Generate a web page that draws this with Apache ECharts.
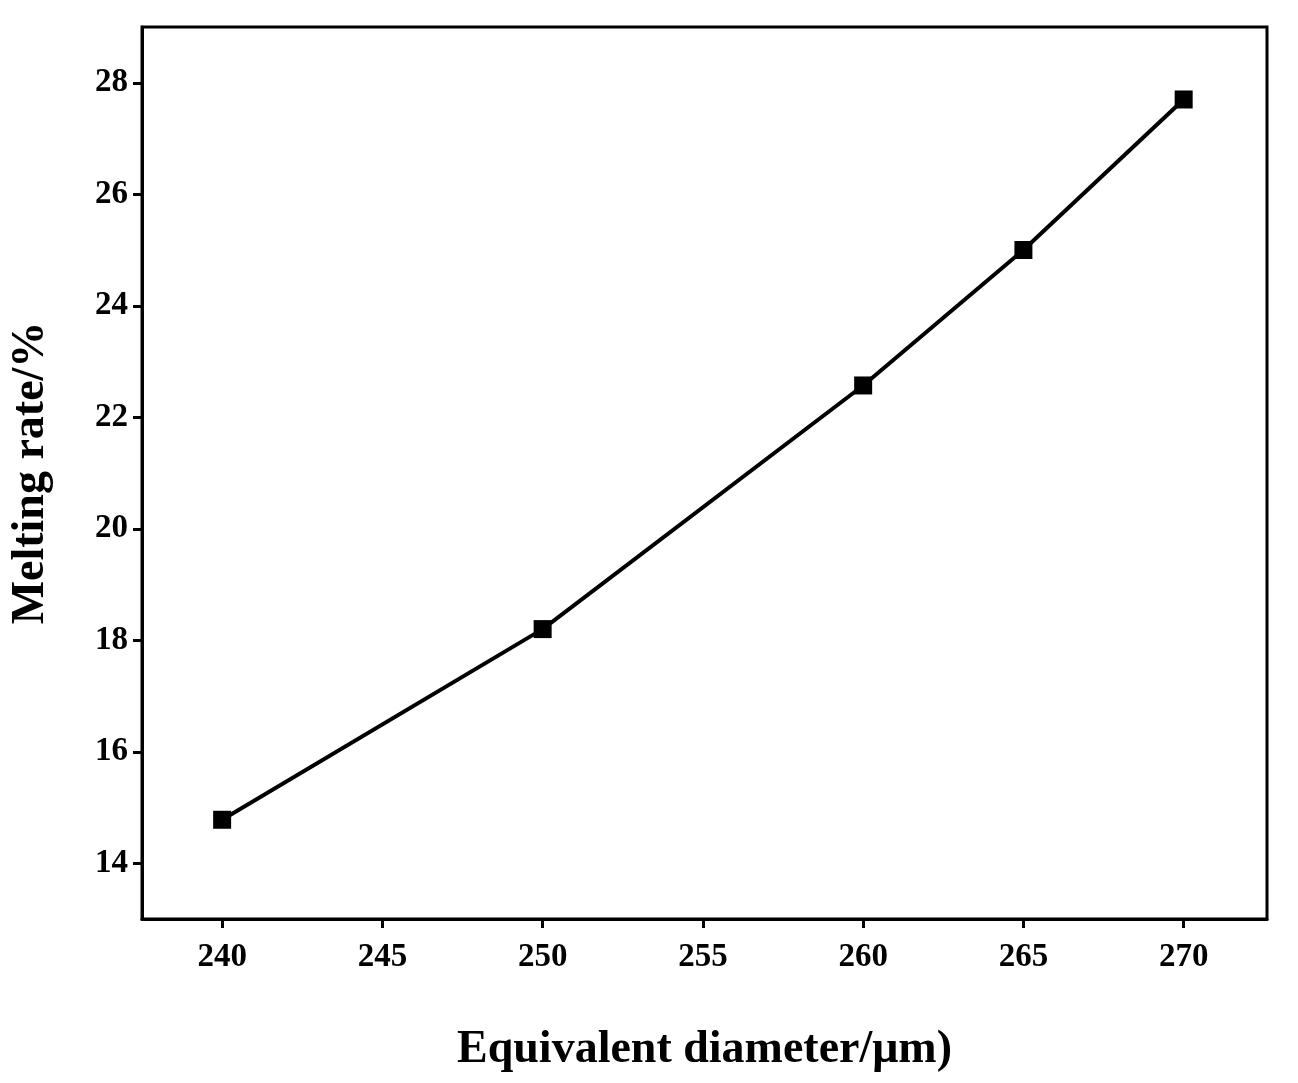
<!DOCTYPE html>
<html><head><meta charset="utf-8">
<script src="https://cdn.jsdelivr.net/npm/echarts@6/dist/echarts.min.js"></script>
<style>html,body{margin:0;padding:0;background:#fff}#c{width:1298px;height:1083px}</style>
</head><body><div id="c"></div>
<script>
const diameters = [240, 250, 260, 265, 270];
const meltingRates = [14.78, 18.2, 22.57, 25.0, 27.7];
const xTicks = [240, 245, 250, 255, 260, 265, 270];
const yTicks = [14, 16, 18, 20, 22, 24, 26, 28];
const font = '"Liberation Serif","Times New Roman",serif';
const chart = echarts.init(document.getElementById('c'));
chart.setOption({
  animation: false,
  grid: {left: 140, right: 31, top: 27, bottom: 164, show: true, borderColor: '#000', borderWidth: 3},
  xAxis: {
    type: 'value', min: 237.5, max: 272.6,
    name: 'Equivalent diameter/μm)', nameLocation: 'middle', nameGap: 108,
    nameTextStyle: {fontFamily: font, fontWeight: 'bold', fontSize: 46, color: '#000'},
    axisLine: {lineStyle: {color: '#000', width: 3}},
    axisTick: {show: true, inside: false, length: 9, lineStyle: {width: 3, color: '#000'}, customValues: xTicks},
    axisLabel: {fontFamily: font, fontWeight: 'bold', fontSize: 33, color: '#000', margin: 22, customValues: xTicks},
    splitLine: {show: false}
  },
  yAxis: {
    type: 'value', min: 13, max: 29,
    name: 'Melting rate/%', nameLocation: 'middle', nameGap: 88,
    nameTextStyle: {fontFamily: font, fontWeight: 'bold', fontSize: 46, color: '#000'},
    axisLine: {lineStyle: {color: '#000', width: 3}},
    axisTick: {show: true, inside: false, length: 9, lineStyle: {width: 3, color: '#000'}, customValues: yTicks},
    axisLabel: {fontFamily: font, fontWeight: 'bold', fontSize: 33, color: '#000', margin: 14, customValues: yTicks},
    splitLine: {show: false}
  },
  series: [{
    type: 'line',
    data: diameters.map((d, i) => [d, meltingRates[i]]),
    symbol: 'rect', symbolSize: 18,
    lineStyle: {color: '#000', width: 4},
    itemStyle: {color: '#000'}
  }]
});
</script></body></html>
